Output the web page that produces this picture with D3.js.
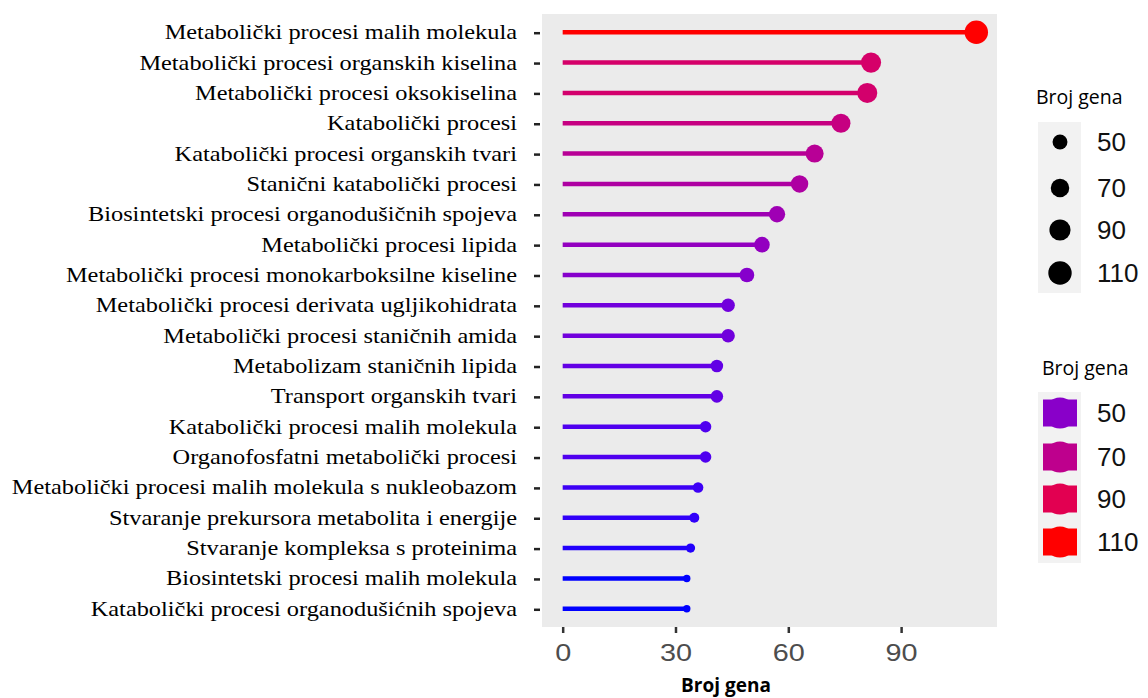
<!DOCTYPE html>
<html>
<head>
<meta charset="utf-8">
<script src="https://cdn.jsdelivr.net/npm/d3@7"></script>
<style>
  body { margin: 0; background: #fff; }
  svg { display: block; }
</style>
</head>
<body>
<script>
//Categories, top to bottom
var processes = [
    "Metabolički procesi malih molekula",
    "Metabolički procesi organskih kiselina",
    "Metabolički procesi oksokiselina",
    "Katabolički procesi",
    "Katabolički procesi organskih tvari",
    "Stanični katabolički procesi",
    "Biosintetski procesi organodušičnih spojeva",
    "Metabolički procesi lipida",
    "Metabolički procesi monokarboksilne kiseline",
    "Metabolički procesi derivata ugljikohidrata",
    "Metabolički procesi staničnih amida",
    "Metabolizam staničnih lipida",
    "Transport organskih tvari",
    "Katabolički procesi malih molekula",
    "Organofosfatni metabolički procesi",
    "Metabolički procesi malih molekula s nukleobazom",
    "Stvaranje prekursora metabolita i energije",
    "Stvaranje kompleksa s proteinima",
    "Biosintetski procesi malih molekula",
    "Katabolički procesi organodušićnih spojeva"
];

//Number of genes per process
var geneCounts = [110, 82, 81, 74, 67, 63, 57, 53, 49, 44, 44, 41, 41, 38, 38, 36, 35, 34, 33, 33];

//Tick and legend values
var xTicks = [0, 30, 60, 90];
var legendValues = [50, 70, 90, 110];

var w = 1148;
var h = 698;

//Panel box
var panel = { left: 542, right: 997, top: 14, bottom: 627 };

var svg = d3.select("body")
            .append("svg")
            .attr("width", w)
            .attr("height", h);

//Scales
var x = d3.scaleLinear()
          .domain([-5.5, 115.5])
          .range([panel.left, panel.right]);

var y = d3.scalePoint()
          .domain(processes)
          .range([panel.top, panel.bottom])
          .padding(0.6);

var minV = d3.min(geneCounts), maxV = d3.max(geneCounts);

var color = d3.scaleLinear()
              .domain([minV, maxV])
              .range(["blue", "red"])
              .interpolate(d3.interpolateLab);

//Area-based size like ggplot
var sizeT = d3.scaleLinear().domain([minV, maxV]).range([0, 1]).clamp(true);
var radius = function(v) { return 3.7 + Math.sqrt(sizeT(v)) * 8; };

var data = processes.map(function(p, i) { return { name: p, value: geneCounts[i] }; });

//Panel background
svg.append("rect")
   .attr("x", panel.left)
   .attr("y", panel.top)
   .attr("width", panel.right - panel.left)
   .attr("height", panel.bottom - panel.top)
   .attr("fill", "#ebebeb");

//Lollipop sticks
svg.selectAll("line.stick")
   .data(data)
   .enter()
   .append("line")
   .attr("class", "stick")
   .attr("x1", x(0))
   .attr("x2", function(d) { return x(d.value); })
   .attr("y1", function(d) { return y(d.name); })
   .attr("y2", function(d) { return y(d.name); })
   .attr("stroke", function(d) { return color(d.value); })
   .attr("stroke-width", 4.5);

//Heads
svg.selectAll("circle.head")
   .data(data)
   .enter()
   .append("circle")
   .attr("class", "head")
   .attr("cx", function(d) { return x(d.value); })
   .attr("cy", function(d) { return y(d.name); })
   .attr("r", function(d) { return radius(d.value); })
   .attr("fill", function(d) { return color(d.value); });

//Y axis labels (the source image is a bit stretched sideways)
svg.selectAll("text.ylab")
   .data(processes)
   .enter()
   .append("text")
   .attr("class", "ylab")
   .attr("transform", function(d) { return "translate(517," + (y(d) + 7) + ") scale(1.16,1)"; })
   .attr("text-anchor", "end")
   .attr("font-family", "'Liberation Serif', 'Times New Roman', serif")
   .attr("font-size", "21px")
   .attr("fill", "#000")
   .text(function(d) { return d; });

svg.selectAll("line.ytick")
   .data(processes)
   .enter()
   .append("line")
   .attr("class", "ytick")
   .attr("x1", 534)
   .attr("x2", 540)
   .attr("y1", function(d) { return y(d) + 1; })
   .attr("y2", function(d) { return y(d) + 1; })
   .attr("stroke", "#222")
   .attr("stroke-width", 2.5);

//X axis
var xAxis = d3.axisBottom(x)
              .tickValues(xTicks)
              .tickSize(6)
              .tickPadding(11);

var gx = svg.append("g")
            .attr("transform", "translate(0," + panel.bottom + ")")
            .call(xAxis);

gx.select(".domain").remove();
gx.selectAll(".tick line")
  .attr("stroke", "#333")
  .attr("stroke-width", 2.5);
gx.selectAll(".tick text")
  .attr("font-family", "'Liberation Sans', Arial, sans-serif")
  .attr("font-size", "24px")
  .attr("transform", "scale(1.2,1)")
  .attr("fill", "#4d4d4d");

//X title
svg.append("text")
   .attr("x", 726)
   .attr("y", 692)
   .attr("text-anchor", "middle")
   .attr("font-family", "'Open Sans', sans-serif")
   .attr("font-weight", "bold")
   .attr("font-size", "19px")
   .attr("fill", "#000")
   .text("Broj gena");

//Size legend
var sizeLegend = svg.append("g");
var legendY1 = [142, 188, 230, 273];

sizeLegend.append("text")
   .attr("x", 1036)
   .attr("y", 104)
   .attr("font-family", "'Open Sans', sans-serif")
   .attr("font-size", "19.5px")
   .text("Broj gena");

sizeLegend.append("rect")
   .attr("x", 1038)
   .attr("y", 122)
   .attr("width", 43)
   .attr("height", 171)
   .attr("fill", "#f2f2f2");

sizeLegend.selectAll("circle")
   .data(legendValues)
   .enter()
   .append("circle")
   .attr("cx", 1060)
   .attr("cy", function(d, i) { return legendY1[i]; })
   .attr("r", function(d) { return radius(d); })
   .attr("fill", "#000");

sizeLegend.selectAll("text.lab")
   .data(legendValues)
   .enter()
   .append("text")
   .attr("class", "lab")
   .attr("x", 1097)
   .attr("y", function(d, i) { return legendY1[i] + 9; })
   .attr("font-family", "'Liberation Sans', Arial, sans-serif")
   .attr("font-size", "26px")
   .attr("fill", "#111")
   .text(function(d) { return d; });

//Colour legend
var colorLegend = svg.append("g");
var legendY2 = [413, 457, 499, 542];

colorLegend.append("text")
   .attr("x", 1042)
   .attr("y", 375)
   .attr("font-family", "'Open Sans', sans-serif")
   .attr("font-size", "19.5px")
   .text("Broj gena");

colorLegend.append("rect")
   .attr("x", 1038)
   .attr("y", 392)
   .attr("width", 43)
   .attr("height", 171)
   .attr("fill", "#f2f2f2");

colorLegend.selectAll("rect.key")
   .data(legendValues)
   .enter()
   .append("rect")
   .attr("class", "key")
   .attr("x", 1043)
   .attr("y", function(d, i) { return legendY2[i] - 13.5; })
   .attr("width", 34)
   .attr("height", 27)
   .attr("fill", function(d) { return color(d); });

colorLegend.selectAll("circle.bulge")
   .data(legendValues)
   .enter()
   .append("circle")
   .attr("class", "bulge")
   .attr("cx", 1060)
   .attr("cy", function(d, i) { return legendY2[i]; })
   .attr("r", 15.5)
   .attr("fill", function(d) { return color(d); });

colorLegend.selectAll("text.lab")
   .data(legendValues)
   .enter()
   .append("text")
   .attr("class", "lab")
   .attr("x", 1097)
   .attr("y", function(d, i) { return legendY2[i] + 9; })
   .attr("font-family", "'Liberation Sans', Arial, sans-serif")
   .attr("font-size", "26px")
   .attr("fill", "#111")
   .text(function(d) { return d; });
</script>
</body>
</html>
